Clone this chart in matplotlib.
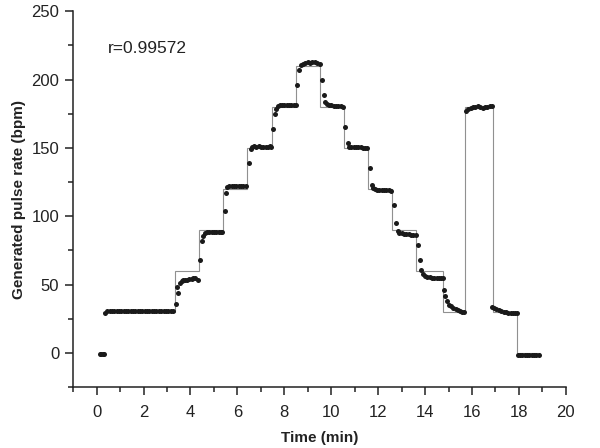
import matplotlib.pyplot as plt
import numpy as np

plt.rcParams['font.family'] = ['Liberation Sans', 'DejaVu Sans']

# reference (set) pulse rate: step edges (min) and levels (bpm)
ref_edges = [0.25, 3.35, 4.36, 5.38, 6.42, 7.47, 8.51, 9.53, 10.54, 11.55,
             12.57, 13.62, 14.77, 15.72, 16.9, 17.93, 18.9]
ref_levels = [30, 60, 90, 120, 150, 180, 210, 180, 150, 120, 90, 60, 30, 180, 30, 0]

# measured pulse rate (dots)
t_meas = [
    0.15, 0.2, 0.25, 0.3,
    0.35, 0.45, 0.55, 0.65, 0.75, 0.85, 0.95, 1.05, 1.15, 1.25, 1.35, 1.45, 1.55,
    1.65, 1.75, 1.85, 1.95, 2.05, 2.15, 2.25, 2.35, 2.45, 2.55, 2.65, 2.75, 2.85,
    2.95, 3.05, 3.15, 3.25,
    3.37, 3.43, 3.47, 3.55, 3.62, 3.69, 3.77, 3.85, 3.95, 4.05, 4.12, 4.19, 4.3,
    4.4, 4.5, 4.55, 4.62, 4.7, 4.8, 4.9, 5.0, 5.1, 5.2, 5.3, 5.36,
    5.47, 5.53, 5.57, 5.65, 5.75, 5.85, 5.95, 6.05, 6.15, 6.25, 6.35,
    6.5, 6.56, 6.62, 6.7, 6.8, 6.9, 7.0, 7.1, 7.2, 7.3, 7.4, 7.45,
    7.53, 7.62, 7.66, 7.72, 7.8, 7.9, 8.0, 8.1, 8.2, 8.3, 8.4, 8.48,
    8.55, 8.64, 8.7, 8.8, 8.9, 9.0, 9.1, 9.2, 9.3, 9.4, 9.5,
    9.61, 9.69, 9.72, 9.8, 9.9, 10.0, 10.1, 10.2, 10.3, 10.4, 10.5,
    10.6, 10.7, 10.76, 10.85, 10.95, 11.05, 11.15, 11.25, 11.35, 11.45, 11.53,
    11.65, 11.72, 11.76, 11.85, 11.95, 12.05, 12.15, 12.25, 12.35, 12.45, 12.55,
    12.66, 12.76, 12.83, 12.9, 13.0, 13.1, 13.2, 13.3, 13.4, 13.5, 13.6,
    13.7, 13.78, 13.82, 13.9, 14.0, 14.1, 14.2, 14.3, 14.4, 14.5, 14.6, 14.7, 14.75,
    14.82, 14.84, 14.92, 15.02, 15.12, 15.2, 15.3, 15.4, 15.5, 15.58, 15.65,
    15.76, 15.85, 15.95, 16.05, 16.15, 16.25, 16.35, 16.45, 16.55, 16.65, 16.75, 16.85,
    16.87, 16.95, 17.04, 17.14, 17.25, 17.35, 17.45, 17.55, 17.65, 17.75, 17.85, 17.93,
    17.95, 18.05, 18.15, 18.25, 18.35, 18.45, 18.55, 18.65, 18.75, 18.85,
]
v_meas = [
    -0.5, -0.5, -0.5, -0.5,
    29, 30.5, 31, 31, 31, 31, 31, 31, 31, 31, 31, 31, 31,
    31, 31, 31, 31, 31, 31, 31, 31, 31, 31, 31, 31, 31,
    31, 31, 31, 31,
    36, 48.3, 44, 51, 52.4, 53, 53.4, 53.6, 54, 54.4, 54.6, 54.9, 53.6,
    67.7, 81.9, 85.8, 88, 88.5, 88.5, 88.7, 88.5, 88.5, 88.6, 88.5, 88.3,
    104, 117, 121.7, 122, 122, 122.3, 122, 122, 121.8, 122, 122,
    138.8, 149, 151, 151.5, 151, 151.5, 151, 150.8, 151, 151, 151.2, 150.8,
    164, 174.6, 178.7, 181, 181.5, 181.5, 181.7, 181.5, 181.5, 181.5, 181.5, 181.3,
    196, 207, 211, 211.5, 212, 212.5, 212, 212.8, 212.5, 212, 211.5,
    199.6, 188.7, 183.3, 182, 181.5, 181.2, 181, 180.8, 180.5, 180.5, 180,
    165, 153.4, 151, 150.5, 150.5, 150.3, 150.5, 150.5, 150.2, 150.2, 150,
    135, 123, 120.5, 119.8, 119.5, 119.5, 119.3, 119.5, 119.2, 119, 118.8,
    108.4, 95, 89, 88, 87.5, 87, 87, 86.8, 86.5, 86.5, 86.5,
    78.7, 67.7, 61, 58, 56.5, 55.8, 55.2, 55, 54.8, 54.6, 54.5, 54.5, 54.5,
    45.8, 41.5, 37.8, 35.4, 34, 33.2, 32.4, 31.6, 30.8, 30.2, 29.8,
    177, 178.5, 179.3, 180, 180, 180.3, 180, 179.5, 180, 180.2, 180.3, 180.3,
    33.7, 33, 32.2, 31.3, 30.5, 30, 29.6, 29.5, 29.5, 29.5, 29.5, 29.5,
    -1.5, -1.5, -1.5, -1.5, -1.5, -1.5, -1.5, -1.5, -1.5, -1.5,
]

fig = plt.figure(figsize=(6, 4.48), dpi=100)
ax = fig.add_axes([0.122, 0.136, 0.821, 0.839])

ax.stairs(ref_levels, ref_edges, baseline=None, color='#909090', lw=0.8)
ax.plot(t_meas, v_meas, 'o', color='#1a1a1a', ms=3.6, mec='none')

ax.set_xlim(-1, 20)
ax.set_ylim(-25, 250)
ax.set_xticks(np.arange(0, 21, 2))
ax.set_xticks(np.arange(-1, 20, 2), minor=True)
ax.set_yticks(np.arange(0, 251, 50))
ax.set_yticks(np.arange(-25, 250, 50), minor=True)

for s in ['top', 'right']:
    ax.spines[s].set_visible(False)
for s in ['left', 'bottom']:
    ax.spines[s].set_linewidth(1.1)
    ax.spines[s].set_color('#222222')

ax.tick_params(which='major', length=6, width=1.1, color='#222222',
               labelsize=12, labelcolor='#222222', pad=4)
ax.tick_params(axis='x', which='major', pad=7)
ax.tick_params(which='minor', length=3.5, width=1.1, color='#222222')

ax.set_xlabel('Time (min)', fontsize=11, fontweight='bold', color='#222222',
              labelpad=8)
ax.set_ylabel('Generated pulse rate (bpm)', fontsize=11, fontweight='bold',
              color='#222222', labelpad=4)
ax.text(0.48, 223, 'r=0.99572', fontsize=12.5, color='#222222', va='center')

fig.savefig('out.png', dpi=100)
